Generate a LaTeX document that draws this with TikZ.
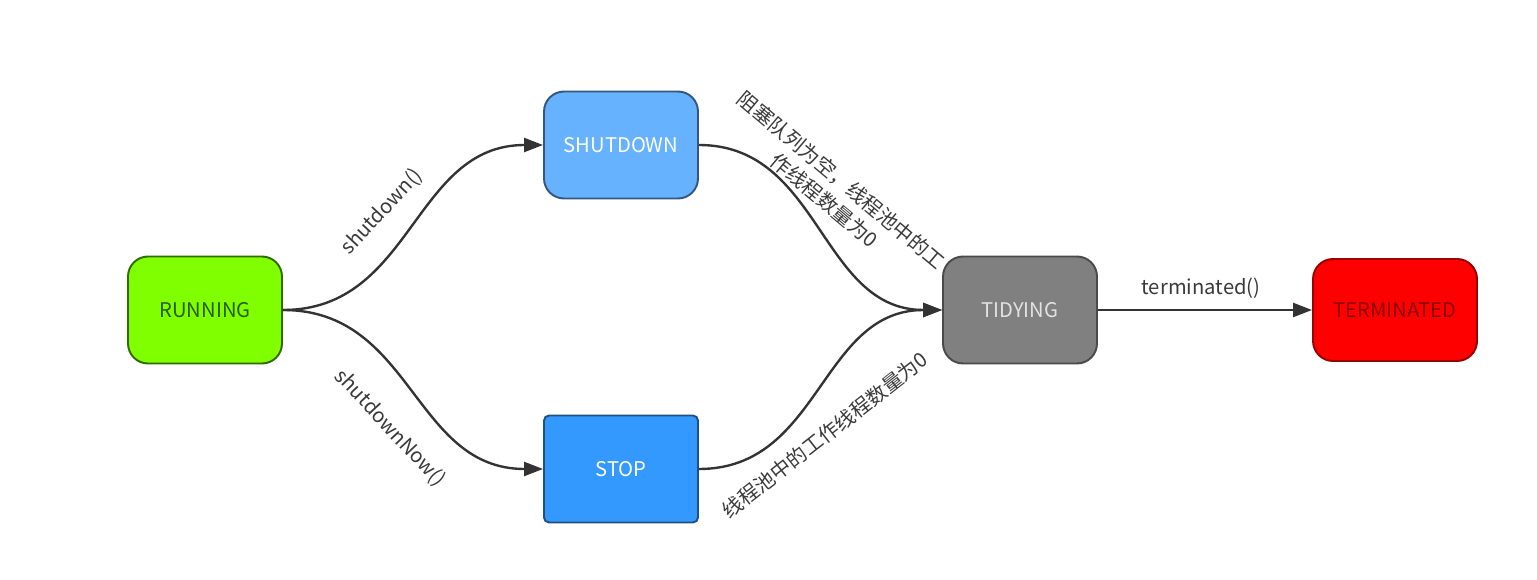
\documentclass[tikz,border=0pt]{standalone}
\usepackage{fontspec}
\setmainfont{Noto Sans CJK SC}
\usetikzlibrary{arrows.meta}
\definecolor{runfill}{HTML}{80FF00}
\definecolor{rundraw}{HTML}{2F6B00}
\definecolor{runtext}{HTML}{2A5C00}
\definecolor{shutfill}{HTML}{66B2FF}
\definecolor{shutdraw}{HTML}{34577F}
\definecolor{stopfill}{HTML}{3399FF}
\definecolor{stopdraw}{HTML}{20507F}
\definecolor{tidyfill}{HTML}{808080}
\definecolor{tidydraw}{HTML}{4A4A4A}
\definecolor{tidytext}{HTML}{E2E2E2}
\definecolor{termfill}{HTML}{FF0000}
\definecolor{termdraw}{HTML}{990000}
\definecolor{termtext}{HTML}{8A0000}
\definecolor{edgecol}{HTML}{333333}
\definecolor{labcol}{HTML}{3A3A3A}
\tikzset{
  state/.style={rounded corners=0.4cm, minimum width=3.08cm, minimum height=2.14cm,
    line width=1.1pt, font=\fontsize{11.5}{13}\selectfont, inner sep=0pt},
  arr/.style={draw=edgecol, line width=1.35pt, -{Triangle[length=0.38cm,width=0.28cm]}},
  lab/.style={font=\fontsize{11.5}{14.8}\selectfont, text=labcol, inner sep=0pt}
}
\begin{document}
\begin{tikzpicture}[x=0.02cm,y=-0.02cm]
\useasboundingbox (0,0) rectangle (1537,580);
\node[state, fill=runfill, draw=rundraw, text=runtext] (run) at (205,310) {RUNNING};
\node[state, fill=shutfill, draw=shutdraw, text=white] (shut) at (621,145) {SHUTDOWN};
\node[state, rounded corners=0.1cm, fill=stopfill, draw=stopdraw, text=white] (stop) at (621,469) {STOP};
\node[state, fill=tidyfill, draw=tidydraw, text=tidytext] (tidy) at (1020,310) {TIDYING};
\node[state, minimum width=3.28cm, minimum height=2.04cm, fill=termfill, draw=termdraw, text=termtext] (term) at (1395,310) {TERMINATED};

\draw[arr] (run.east) .. controls +(130,0) and +(-130,0) .. (shut.west);
\draw[arr] (run.east) .. controls +(130,0) and +(-130,0) .. (stop.west);
\draw[arr] (shut.east) .. controls +(122,0) and +(-122,0) .. (tidy.west);
\draw[arr] (stop.east) .. controls +(122,0) and +(-122,0) .. (tidy.west);
\draw[arr] (tidy.east) -- (term.west);

\node[lab, rotate=47] (l1) at (382,212) {shutdown()};
\node[lab, rotate=-47] (l2) at (390,428) {shutdownNow()};
\node[lab, rotate=-40, align=center] (l3) at (833,190) {阻塞队列为空，线程池中的工\\作线程数量为0};
\node[lab, rotate=38] (l4) at (825,435) {线程池中的工作线程数量为0};
\node[lab] (l5) at (1201,288) {terminated()};
\end{tikzpicture}
\end{document}
